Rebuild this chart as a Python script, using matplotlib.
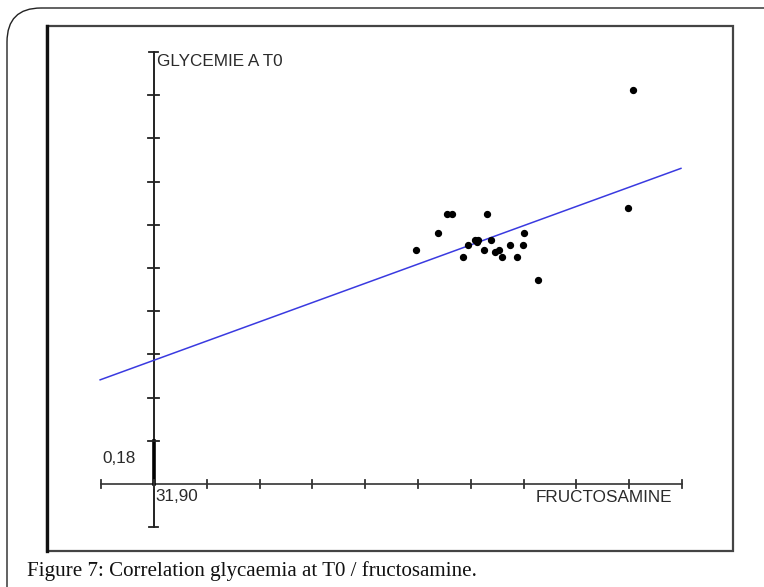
import matplotlib
matplotlib.use("Agg")
import matplotlib.pyplot as plt
from matplotlib.patches import FancyBboxPatch, Rectangle
import numpy as np

# values in axis-tick units (origin = 31,90 / 0,18 crossing)
fructo = [4.96, 5.38, 5.54, 5.64, 6.30, 5.85, 5.95, 6.08, 6.14, 6.11,
          6.38, 6.25, 6.46, 6.54, 6.59, 6.74, 6.87, 6.98, 7.01, 7.28,
          9.08, 8.98]
glyc = [5.42, 5.82, 6.26, 6.26, 6.26, 5.25, 5.53, 5.65, 5.65, 5.61,
        5.65, 5.42, 5.36, 5.42, 5.25, 5.53, 5.25, 5.53, 5.82, 4.72,
        9.12, 6.38]
fit_x = [-1.02, 9.98]
fit_slope = 0.445
fit_icpt = 2.865
x_ticks = list(range(-1, 11))
y_ticks = list(range(1, 10))
caption = "Figure 7: Correlation glycaemia at T0 / fructosamine."

W, H = 764, 587
fig = plt.figure(figsize=(W / 100, H / 100), dpi=100)

# decoration layer in pixel coords
deco = fig.add_axes([0, 0, 1, 1])
deco.set_xlim(0, W)
deco.set_ylim(H, 0)
deco.axis("off")
deco.add_patch(FancyBboxPatch((7, 8), 800, 640, boxstyle="round,pad=0,rounding_size=34",
                              fill=False, ec="#222222", lw=1.0))
deco.add_patch(Rectangle((47, 26), 686, 525, fill=False, ec="#444444", lw=1.6))
deco.plot([47, 47], [26, 551], color="#111111", lw=2.4)
deco.text(27, 576, caption, family="Liberation Serif", fontsize=15.1,
          color="#111111", va="baseline", ha="left")

# chart layer in tick units
ax = fig.add_axes([0, 0, 1, 1], facecolor="none")
ax.set_xlim(-154 / 52.8, (W - 154) / 52.8)
ax.set_ylim((484 - H) / 43.2, 484 / 43.2)
ax.axis("off")

ax.plot([-1, 10], [0, 0], color="#333333", lw=1.2)
ax.plot([0, 0], [-1, 10], color="#111111", lw=1.3)
ax.plot([0, 0], [0, 1], color="#000000", lw=2.6)
for t in x_ticks:
    ax.plot([t, t], [-0.085, 0.085], color="#333333", lw=1.3)
for t in y_ticks:
    ax.plot([-0.11, 0.09], [t, t], color="#222222", lw=1.3)
for t in [-1, 10]:
    ax.plot([-0.1, 0.07], [t, t], color="#222222", lw=1.3)

xx = np.array(fit_x)
ax.plot(xx, fit_icpt + fit_slope * xx, color="#3a3ae0", lw=1.1)
ax.scatter(fructo, glyc, s=18, color="black", zorder=3)

tkw = dict(family="Liberation Sans", fontsize=12.3, color="#2a2a2a", va="center", ha="left")
ax.text(0.06, 9.77, "GLYCEMIE A T0", **tkw)
ax.text(-0.985, 0.58, "0,18", **tkw)
ax.text(0.02, -0.30, "31,90", **tkw)
ax.text(7.23, -0.32, "FRUCTOSAMINE", **tkw)

fig.savefig("out.png", dpi=100)
